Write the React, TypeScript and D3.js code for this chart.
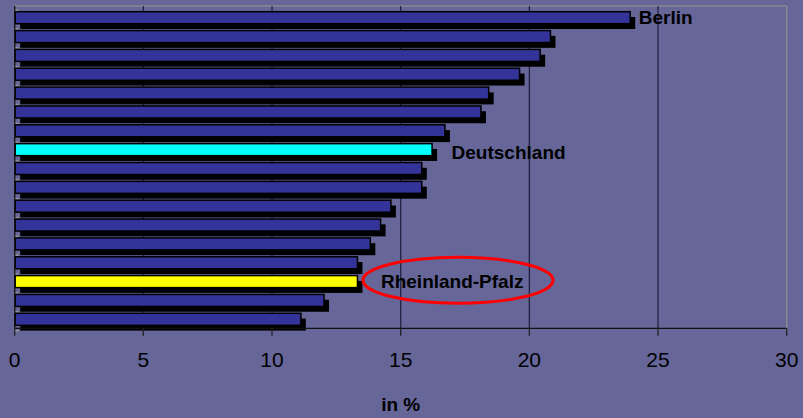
import React, { useEffect } from "react";
import * as d3 from "d3";

const categories = [
  "Berlin", "Land 2", "Land 3", "Land 4", "Land 5", "Land 6", "Land 7",
  "Deutschland", "Land 9", "Land 10", "Land 11", "Land 12", "Land 13",
  "Land 14", "Rheinland-Pfalz", "Land 16", "Land 17",
];
const values = [23.9, 20.8, 20.4, 19.6, 18.4, 18.1, 16.7, 16.2, 15.8, 15.8, 14.6, 14.2, 13.8, 13.3, 13.3, 12.0, 11.1];
const highlight: Record<string, string> = { Deutschland: "#00FFFF", "Rheinland-Pfalz": "#FFFF00" };
const xTicks = [0, 5, 10, 15, 20, 25, 30];
const axisTitle = "in %";

const W = 803, H = 418;
const left = 14.7, right = 786.7, top = 6, bottom = 328.3;

export default function App() {
  useEffect(() => {
    document.body.style.margin = "0";
  }, []);
  const x = d3.scaleLinear().domain([0, 30]).range([left, right]);
  const y = d3.scaleBand<string>().domain(categories).range([11.7, 325.3]).paddingInner(0.363).paddingOuter(0);
  const bw = y.bandwidth();
  const step = y.step();
  const font = "'Liberation Sans', Arial, sans-serif";
  const data = categories.map((c, i) => ({ c, v: values[i] }));
  return (
    <svg width={W} height={H} style={{ display: "block" }} fontFamily={font}>
      <rect x={0} y={0} width={W} height={H} fill="#666699" />
      <line x1={left} x2={right} y1={top} y2={top} stroke="#8a8a8a" strokeWidth={1.5} />
      <line x1={right} x2={right} y1={top} y2={bottom} stroke="#8a8a8a" strokeWidth={1.5} />
      {xTicks.filter((t) => t > 0 && t < 30).map((t) => (
        <line key={t} x1={x(t)} x2={x(t)} y1={top} y2={bottom} stroke="#222244" strokeWidth={1.3} />
      ))}
      {d3.range(categories.length + 1).map((i) => {
        const yy = 11.7 - (step - bw) / 2 + i * step + 2;
        return <line key={i} x1={left - 1} x2={left + 4} y1={yy} y2={yy} stroke="#9a9a9a" strokeWidth={1.5} />;
      })}
      {data.map((d) => (
        <rect key={"s" + d.c} x={left + 5.5} y={(y(d.c) as number) + 5.3} width={x(d.v) - left} height={bw} fill="#000" />
      ))}
      {data.map((d) => (
        <rect key={"b" + d.c} x={left + 0.5} y={y(d.c) as number} width={x(d.v) - left} height={bw}
          fill={highlight[d.c] || "#333399"} stroke="#000" strokeWidth={1.5} />
      ))}
      <line x1={left} x2={left} y1={top} y2={bottom} stroke="#111" strokeWidth={1.3} />
      <line x1={left} x2={right} y1={bottom} y2={bottom} stroke="#111" strokeWidth={1.3} />
      {xTicks.map((t) => (
        <g key={t}>
          <line x1={x(t)} x2={x(t)} y1={bottom} y2={bottom + 7.5} stroke="#222" strokeWidth={1.3} />
          <text x={x(t)} y={367} textAnchor="middle" fontSize={21} fill="#000">{t}</text>
        </g>
      ))}
      <text x={x(15)} y={410.5} textAnchor="middle" fontSize={19} fontWeight="bold" fill="#000">{axisTitle}</text>
      <text x={x(values[0]) + 9} y={24} fontSize={19} fontWeight="bold" fill="#000">Berlin</text>
      <text x={x(values[7]) + 20} y={159} fontSize={19} fontWeight="bold" fill="#000">Deutschland</text>
      <ellipse cx={458} cy={280.3} rx={95} ry={23} fill="none" stroke="#FF0000" strokeWidth={3} />
      <text x={x(values[14]) + 24} y={288.3} fontSize={19} fontWeight="bold" fill="#000">Rheinland-Pfalz</text>
    </svg>
  );
}
